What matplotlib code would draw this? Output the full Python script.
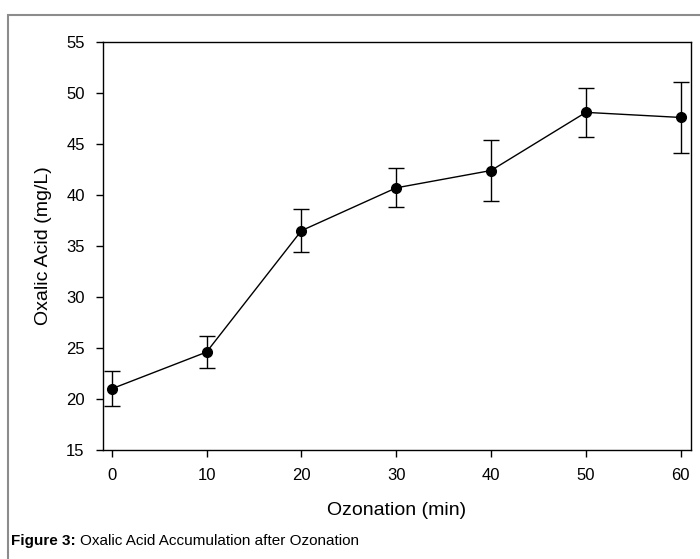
import matplotlib
matplotlib.use('agg')
from matplotlib import pyplot as plt
from matplotlib.patches import Rectangle

# oxalic acid accumulation during ozonation
time_min = [0, 10, 20, 30, 40, 50, 60]
oxalic = [21.0, 24.6, 36.5, 40.7, 42.4, 48.1, 47.6]
err = [1.7, 1.6, 2.1, 1.9, 3.0, 2.4, 3.5]

plt.rcParams['font.family'] = ['Liberation Sans', 'DejaVu Sans']

fig = plt.figure(figsize=(7, 5.59), dpi=100)
ax = fig.add_axes([0.1467, 0.195, 0.84, 0.7299])

# gray frame around the figure (clipped on right/bottom)
fig.patches.append(Rectangle((8 / 700, -0.05), 1.0, 1 - 15 / 559 + 0.05,
                             transform=fig.transFigure, fill=False,
                             edgecolor='#8c8c8c', linewidth=1.5))

ax.errorbar(time_min, oxalic, yerr=err, color='black', marker='o',
            markersize=7, linewidth=1, elinewidth=1, capsize=6, capthick=1)

ax.set_xlim(-0.95, 61.05)
ax.set_ylim(15, 55)
ax.set_xticks(time_min)
ax.set_yticks(range(15, 56, 5))
ax.tick_params(direction='out', length=5, width=1, labelsize=12, pad=8)
for s in ax.spines.values():
    s.set_linewidth(1)

ax.set_xlabel('Ozonation (min)', fontsize=14, labelpad=14)
ax.set_ylabel('Oxalic Acid (mg/L)', fontsize=14, labelpad=10)

# caption: bold label followed by normal text
cap_y = 1 - 541 / 559
t1 = fig.text(11 / 700, cap_y, 'Figure 3:', fontsize=11, fontweight='bold',
              va='center', ha='left')
fig.canvas.draw()
bb = t1.get_window_extent()
fig.text((bb.x1 + 4) / 700, cap_y, 'Oxalic Acid Accumulation after Ozonation',
         fontsize=11, va='center', ha='left')

plt.savefig('out.png')
plt.close()
